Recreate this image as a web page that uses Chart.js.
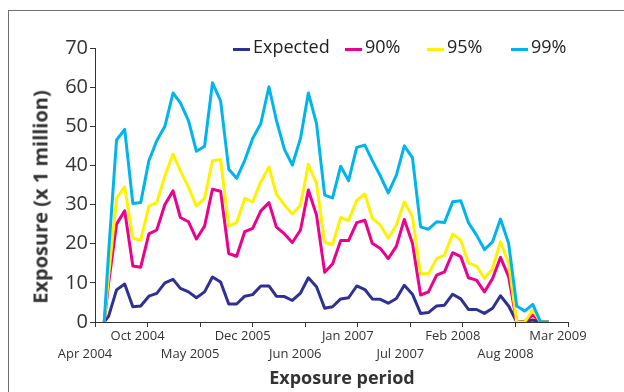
<!DOCTYPE html>
<html lang="en">
<head>
<meta charset="UTF-8">
<title>Exposure</title>
<script src="https://cdn.jsdelivr.net/npm/chart.js@4.4.1/dist/chart.umd.min.js"></script>
<style>
    * { margin: 0; padding: 0; box-sizing: border-box; }
    html, body {
        width: 624px; height: 392px; overflow: hidden;
        background: #fff; color: #333;
        font-family: 'Open Sans', sans-serif;
    }
    .frame {
        position: absolute; left: 8px; top: 10px;
        width: 660px; height: 420px;
        border: 1.5px solid #707070;
    }
    #chart { position: absolute; left: 0; top: 0; }

    /* legend */
    .legend-item {
        position: absolute; top: 35px;
        display: flex; align-items: center;
        font-size: 18px; line-height: 22px; color: #222;
        white-space: nowrap;
    }
    .legend-item .swatch { width: 17px; height: 3px; margin: 7px 3px 0 0; }
    .legend-item:nth-child(1) { left: 233px; }
    .legend-item:nth-child(2) { left: 345px; }
    .legend-item:nth-child(3) { left: 427px; }
    .legend-item:nth-child(4) { left: 511px; }

    .axis-title { position: absolute; font-weight: bold; white-space: nowrap; color: #333; }
    .y-title { left: 40px; top: 197px; font-size: 20px; transform: translate(-50%, -50%) rotate(-90deg); }
    .x-title { left: 342px; top: 377px; font-size: 18px; transform: translate(-50%, -50%); }
</style>
</head>
<body>
    <div class="frame"></div>
    <canvas id="chart" width="624" height="392"></canvas>
    <div id="legend"></div>
    <div class="axis-title y-title">Exposure (x 1 million)</div>
    <div class="axis-title x-title">Exposure period</div>

<script>
// monthly exposure periods (first point is the starting zero)
const periods = [
    '2004-05-15',
    '2004-06-01', '2004-07-01', '2004-08-01', '2004-09-01', '2004-10-01', '2004-11-01', '2004-12-01',
    '2005-01-01', '2005-02-01', '2005-03-01', '2005-04-01', '2005-05-01', '2005-06-01',
    '2005-07-01', '2005-08-01', '2005-09-01', '2005-10-01', '2005-11-01', '2005-12-01',
    '2006-01-01', '2006-02-01', '2006-03-01', '2006-04-01', '2006-05-01', '2006-06-01',
    '2006-07-01', '2006-08-01', '2006-09-01', '2006-10-01', '2006-11-01', '2006-12-01',
    '2007-01-01', '2007-02-01', '2007-03-01', '2007-04-01', '2007-05-01', '2007-06-01',
    '2007-07-01', '2007-08-01', '2007-09-01', '2007-10-01', '2007-11-01', '2007-12-01',
    '2008-01-01', '2008-02-01', '2008-03-01', '2008-04-01', '2008-05-01', '2008-06-01',
    '2008-07-01', '2008-08-01', '2008-09-01', '2008-10-01', '2008-11-01', '2008-12-01',
    '2009-01-01'
];

const expected = [0, 1.5, 8.2, 9.7, 3.9, 4.1, 6.6, 7.3, 10.0, 10.9, 8.6, 7.7, 6.2, 7.7, 11.5, 10.2,
    4.6, 4.6, 6.6, 7.0, 9.2, 9.2, 6.6, 6.5, 5.5, 7.4, 11.3, 9.0, 3.5, 3.9, 5.9, 6.2, 9.2, 8.3, 5.9,
    5.8, 4.8, 6.0, 9.4, 7.1, 2.2, 2.4, 4.1, 4.3, 7.1, 5.9, 3.2, 3.2, 2.2, 3.5, 6.7, 4.1, 0, 0.2, 0.5, 0, 0];

const pct90 = [0, 10, 25.0, 28.4, 14.3, 14.0, 22.5, 23.5, 30.0, 33.5, 26.7, 25.6, 21.2, 24.5, 33.9, 33.4,
    17.5, 16.8, 23.1, 23.9, 28.4, 30.5, 24.3, 22.5, 20.3, 23.5, 33.7, 27.3, 12.7, 14.8, 20.8, 20.8, 25.4,
    26.0, 20.1, 18.8, 16.2, 19.4, 26.2, 20.1, 6.9, 7.7, 12.0, 12.8, 17.7, 16.7, 11.3, 10.7, 7.7, 11.1,
    16.5, 11.6, 0, 0, 1.8, 0, 0];

const pct95 = [0, 12, 31.6, 34.5, 21.4, 20.9, 29.6, 30.5, 37.3, 42.9, 38.6, 34.4, 29.6, 31.6, 41.2, 41.5,
    24.5, 25.4, 31.6, 30.7, 35.8, 39.6, 32.7, 29.9, 27.6, 29.9, 40.3, 35.4, 20.3, 19.8, 26.7, 25.9, 31.1,
    32.7, 26.5, 24.8, 21.4, 24.8, 30.7, 26.9, 12.3, 12.3, 16.2, 17.1, 22.5, 20.9, 15.1, 14.3, 11.1, 13.7,
    20.5, 15.0, 0, 0, 3.0, 0, 0];

const pct99 = [0, 18, 46.5, 49.2, 30.3, 30.5, 41.2, 46.3, 50.0, 58.5, 56.0, 51.4, 43.6, 44.9, 61.1, 56.5,
    39.0, 36.7, 41.3, 46.9, 50.7, 60.1, 51.6, 44.1, 40.1, 46.9, 58.5, 50.7, 32.4, 31.7, 39.8, 36.1, 44.6,
    45.2, 41.3, 37.3, 33.0, 37.5, 45.0, 42.0, 24.3, 23.7, 25.6, 25.4, 30.7, 31.0, 25.4, 22.2, 18.5, 20.5,
    26.3, 20.1, 4.1, 2.8, 4.5, 0, 0];

const seriesNames = ['Expected', '90%', '95%', '99%'];
const seriesColors = ['#2e3192', '#ec008c', '#fff200', '#00b4ee'];

// date axis: starts 10 Apr 2004, a tick every 200 days
const axisStart = '2004-04-10';
const tickStepDays = 200;
const tickLabels = ['Apr 2004', 'Oct 2004', 'May 2005', 'Dec 2005', 'Jun 2006',
    'Jan 2007', 'Jul 2007', 'Feb 2008', 'Aug 2008', 'Mar 2009'];

const dayMs = 86400000;
const toDay = d => (Date.parse(d) - Date.parse(axisStart)) / dayMs;

const allSeries = [expected, pct90, pct95, pct99];

// legend
const legend = document.getElementById('legend');
seriesNames.forEach((name, k) => {
    const item = document.createElement('div');
    item.className = 'legend-item';
    item.innerHTML = '<span class="swatch" style="background:' + seriesColors[k] + '"></span><span>' + name + '</span>';
    legend.appendChild(item);
});

new Chart(document.getElementById('chart'), {
    type: 'line',
    data: {
        datasets: allSeries.map((values, k) => ({
            label: seriesNames[k],
            data: values.map((v, i) => ({ x: toDay(periods[i]), y: v })),
            borderColor: seriesColors[k],
            backgroundColor: seriesColors[k],
            borderWidth: 3,
            borderJoinStyle: 'round',
            pointRadius: 0,
            tension: 0,
            fill: false,
            order: 3 - k
        }))
    },
    options: {
        responsive: false,
        animation: false,
        layout: { padding: { top: 48, right: 56, bottom: 20, left: 0 } },
        plugins: {
            legend: { display: false },
            tooltip: { enabled: false }
        },
        scales: {
            x: {
                type: 'linear',
                min: 0,
                max: tickStepDays * (tickLabels.length - 1),
                grid: { drawOnChartArea: false, tickLength: 5, color: '#333' },
                border: { color: '#333', width: 1 },
                ticks: {
                    stepSize: tickStepDays,
                    autoSkip: false,
                    maxRotation: 0,
                    labelOffset: -10,
                    padding: 0,
                    color: '#333',
                    font: { family: 'Open Sans', size: 13, lineHeight: 1.385 },
                    callback: (value, index) => index % 2 ? [tickLabels[index], ''] : ['', tickLabels[index]]
                },
                afterFit: scale => { scale.height = 50; }
            },
            y: {
                min: 0,
                max: 70,
                grid: { drawOnChartArea: false, tickLength: 5, color: '#333' },
                border: { color: '#333', width: 1 },
                ticks: {
                    stepSize: 10,
                    padding: 2,
                    color: '#333',
                    font: { family: 'Open Sans', size: 20 }
                },
                afterFit: scale => { scale.width = 95; }
            }
        }
    }
});
</script>
</body>
</html>
